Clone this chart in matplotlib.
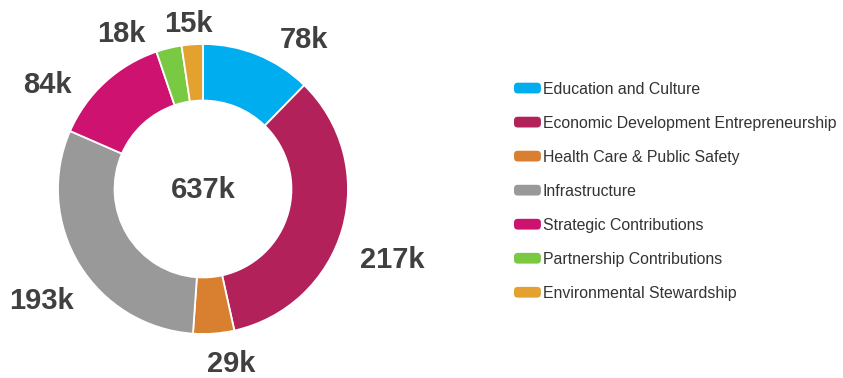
import numpy as np
import matplotlib
matplotlib.use("Agg")
import matplotlib.pyplot as plt
from matplotlib.patches import FancyBboxPatch, Patch
from matplotlib.legend_handler import HandlerBase

plt.rcParams["font.family"] = ["Liberation Sans", "DejaVu Sans"]

categories = [
    "Education and Culture",
    "Economic Development Entrepreneurship",
    "Health Care & Public Safety",
    "Infrastructure",
    "Strategic Contributions",
    "Partnership Contributions",
    "Environmental Stewardship",
]
values = [78, 217, 29, 193, 84, 18, 15]  # thousands
value_labels = ["78k", "217k", "29k", "193k", "84k", "18k", "15k"]
total_label = "637k"
colors = ["#00AEEF", "#B3215A", "#D8802F", "#999999", "#CD136F", "#7AC943", "#E4A12F"]

TEXT = "#404040"


class RoundedHandle(HandlerBase):
    """Legend handle drawn as a small rounded bar"""

    def create_artists(self, legend, orig_handle, xdescent, ydescent,
                       width, height, fontsize, trans):
        h = 0.68 * fontsize
        box = FancyBboxPatch((-xdescent, -ydescent + (height - h) / 2), width, h,
                             boxstyle=f"round,pad=0,rounding_size={h * 0.35}",
                             facecolor=orig_handle.get_facecolor(),
                             edgecolor="none", transform=trans)
        return [box]


fig = plt.figure(figsize=(8.43, 3.78), dpi=100)

# pie axes: 1 data unit = 145 px, ring centred at (203, 189)
ax = fig.add_axes([0, 0, 406 / 843, 1])
wedges, _ = ax.pie(values, colors=colors, startangle=90, counterclock=False,
                   radius=1.0, wedgeprops=dict(width=0.39, edgecolor="white", linewidth=1.3))
ax.set_xlim(-1.4, 1.4)
ax.set_ylim(-1.3034, 1.3034)
ax.set_aspect("auto")
ax.axis("off")

# value labels around the ring, nudged in pixels to sit like the original
nudges = [(34, -12), (19, -20), (15, 4), (-10, -17), (-36, -23), (-40, -14), (-1, -8)]
for w, lab, (dx, dy) in zip(wedges, value_labels, nudges):
    mid = np.deg2rad((w.theta1 + w.theta2) / 2)
    r = 1.22
    ax.annotate(lab, xy=(r * np.cos(mid), r * np.sin(mid)), xytext=(dx, dy),
                textcoords="offset pixels", ha="center", va="center_baseline",
                fontsize=21, fontweight="bold", color=TEXT)

ax.text(0, 2 / 145, total_label, ha="center", va="center_baseline",
        fontsize=21, fontweight="bold", color=TEXT)

handles = [Patch(facecolor=c) for c in colors]
fig.legend(handles, categories, loc="upper left",
           bbox_to_anchor=(514 / 843, 1 - 81.5 / 378),
           frameon=False, fontsize=11.4, labelcolor="#333333",
           handler_map={Patch: RoundedHandle()},
           handlelength=1.7, handleheight=0.9, handletextpad=0.13,
           labelspacing=1.2, borderpad=0, borderaxespad=0)

fig.savefig("out.png", dpi=100)
